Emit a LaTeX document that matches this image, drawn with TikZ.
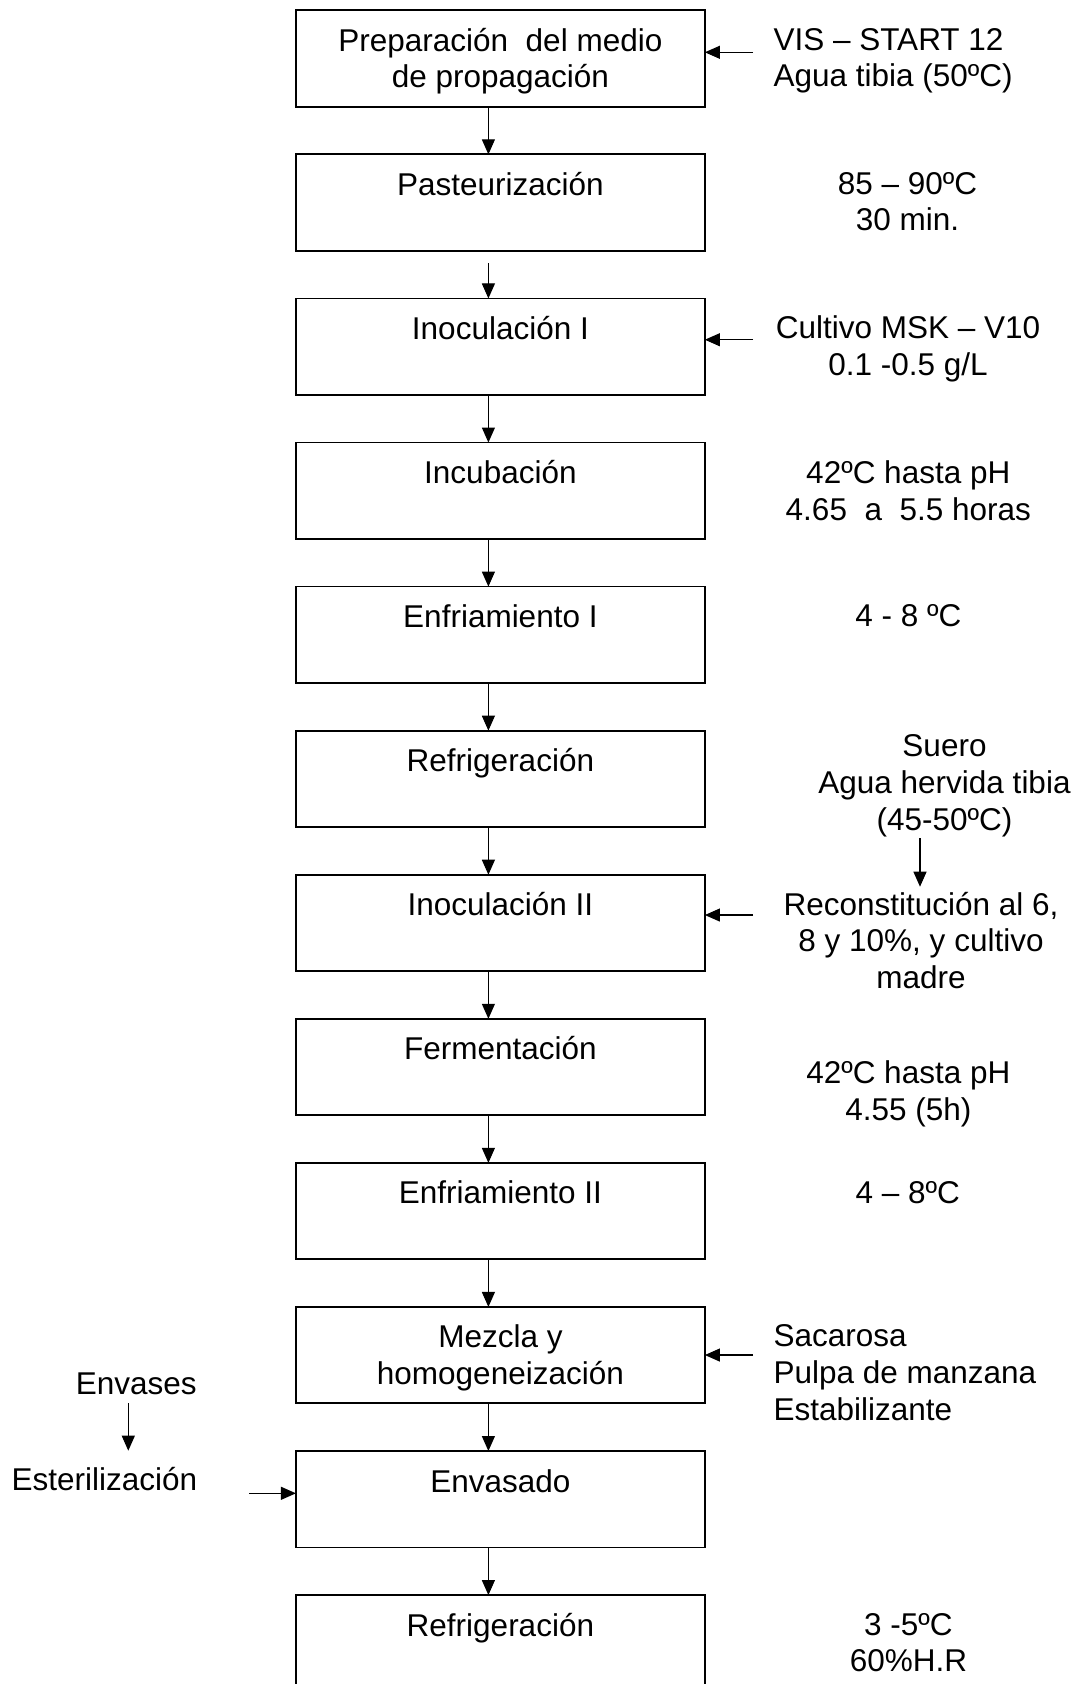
\documentclass[tikz,border=0pt]{standalone}
\usepackage{fontspec}
\setmainfont{Liberation Sans}
\usetikzlibrary{arrows.meta}

\tikzset{
    paso/.style={draw, line width=1.8pt, minimum width=409pt, inner sep=0pt, outer sep=0pt,
        align=center, anchor=north},
    nota/.style={anchor=base, align=center, inner sep=0pt},
    notaizq/.style={anchor=base west, align=left, inner sep=0pt},
    flecha/.style={-{Triangle[length=15pt,width=13pt]}, line width=1.1pt},
}

\begin{document}
\begin{tikzpicture}[x=1pt,y=-1pt,font=\fontsize{31.5}{36.6}\selectfont]
        \useasboundingbox[fill=white] (0,0) rectangle (1084,1684);

        % the process steps (height/depth put the last line where it belongs)
        \foreach \i/\th/\td/\txt in {
            1/77.6/18.8/Preparación~ del medio\\de propagación,
            2/41/55.4/Pasteurización,
            3/41/55.4/Inoculación I,
            4/41/55.4/Incubación,
            5/41/55.4/Enfriamiento I,
            6/41/55.4/Refrigeración,
            7/41/55.4/Inoculación II,
            8/41/55.4/Fermentación,
            9/41/55.4/Enfriamiento II,
            10/77.6/18.8/Mezcla y\\homogeneización,
            11/41/55.4/Envasado,
            12/41/55.4/Refrigeración}
                \node[paso,text height=\th pt,text depth=\td pt] (p\i) at (500.4,{10.3+144.07*(\i-1)}) {\txt};

        % arrows between the steps
        \foreach \a/\b in {1/2,3/4,4/5,5/6,6/7,7/8,8/9,9/10,10/11,11/12}
                \draw[flecha] ([xshift=-12pt]p\a.south) -- ([xshift=-12pt]p\b.north);
        \draw[flecha] ([xshift=-12pt,yshift=-12.6pt]p2.south) -- ([xshift=-12pt]p3.north);

        % inputs from the right
        \foreach \i/\dy in {1/42,3/41.3,7/40.3,10/48.1}
                \draw[flecha] ([xshift=48.3pt,yshift=-\dy pt]p\i.north east) -- ([yshift=-\dy pt]p\i.north east);

        % conditions (placed at the baseline of their last line)
        \node[notaizq] (vis) at (773.3,86.7) {VIS – START 12\\Agua tibia (50ºC)};
        \node[nota] (past) at (907.5,230.7) {85 – 90ºC\\30 min.};
        \node[nota] (cult) at (908,375) {Cultivo MSK – V10\\0.1 -0.5 g/L};
        \node[nota] (incu) at (908.3,520) {42ºC hasta pH\\4.65~ a~ 5.5 horas};
        \node[nota] (enf1) at (908.3,626.7) {4 - 8 ºC};
        \node[nota] (suero) at (944.5,830) {Suero\\Agua hervida tibia\\(45-50ºC)};
        \node[nota] (recon) at (921,988.3) {Reconstitución al 6,\\8 y 10\%, y cultivo\\madre};
        \node[nota] (ferm) at (908.3,1120) {42ºC hasta pH\\4.55 (5h)};
        \node[nota] (enf2) at (907.8,1203.3) {4 – 8ºC};
        \node[notaizq] (saca) at (773.3,1420) {Sacarosa\\Pulpa de manzana\\Estabilizante};
        \node[nota] (refr) at (908.5,1671.7) {3 -5ºC\\60\%H.R};

        % suero goes into the reconstitution
        \coordinate (suero-a) at (920,838.3);
        \coordinate (suero-b) at (920,886.7);
        \draw[flecha] (suero-a) -- (suero-b);

        % containers on the left
        \node[nota] (envs) at (136.3,1394) {Envases};
        \node[nota] (este) at (104.5,1490.7) {Esterilización};
        \coordinate (envs-a) at (128.3,1403);
        \coordinate (envs-b) at (128.3,1450.7);
        \draw[flecha] (envs-a) -- (envs-b);
        \draw[flecha] ([xshift=-46.7pt,yshift=-42.3pt]p11.north west) -- ([yshift=-42.3pt]p11.north west);

\end{tikzpicture}
\end{document}
